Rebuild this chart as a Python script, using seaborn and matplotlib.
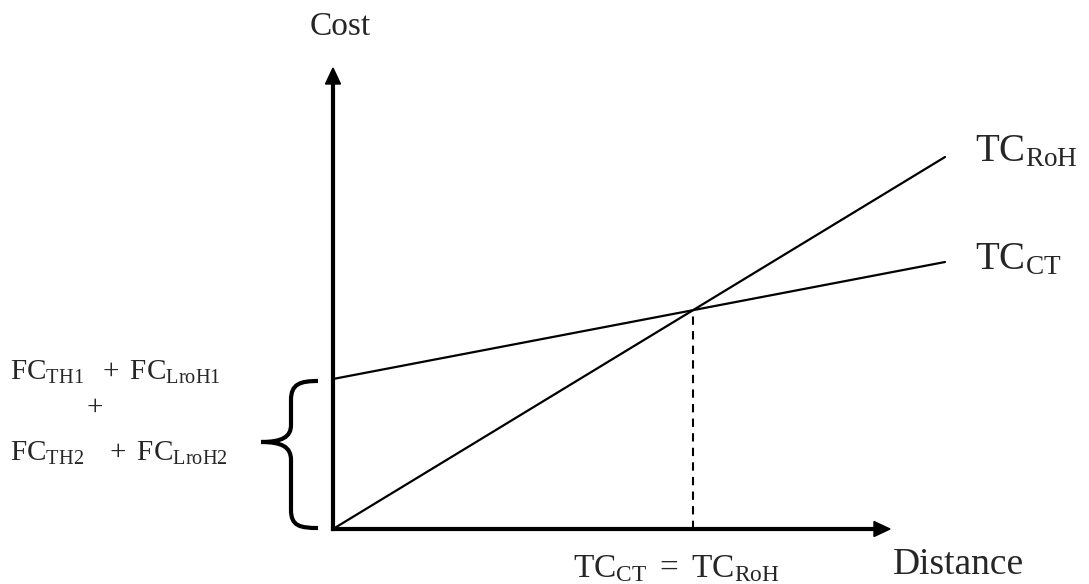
import numpy as np
import pandas as pd
import seaborn as sns
import matplotlib
matplotlib.use("Agg")
import matplotlib.pyplot as plt
from matplotlib.path import Path
from matplotlib.patches import PathPatch

# ---- data (conceptual units) ----
distance = [0, 612]
tc_ct = [150, 267]
tc_roh = [0, 372]
axis_x_end = 557
axis_y_end = 461

sns.set_theme(style="white")
plt.rcParams['font.family'] = ['Liberation Serif', 'DejaVu Serif']
plt.rcParams['mathtext.fontset'] = 'custom'
plt.rcParams['mathtext.rm'] = 'Liberation Serif'
plt.rcParams['mathtext.it'] = 'Liberation Serif:italic'

fig = plt.figure(figsize=(10.89, 5.84), dpi=100)
ax = fig.add_axes([0, 0, 1, 1])
ax.set_xlim(-333, 756)
ax.set_ylim(-55, 529)
ax.axis('off')

df = pd.DataFrame({'Distance': distance * 2,
                   'Cost': tc_ct + tc_roh,
                   'Series': ['CT'] * 2 + ['RoH'] * 2})
sns.lineplot(data=df, x='Distance', y='Cost', units='Series', estimator=None,
             color='black', lw=1.6, ax=ax, legend=False)

# intersection
slope_ct = (tc_ct[1] - tc_ct[0]) / (distance[1] - distance[0])
slope_roh = (tc_roh[1] - tc_roh[0]) / (distance[1] - distance[0])
xi = (tc_ct[0] - tc_roh[0]) / (slope_roh - slope_ct)
yi = tc_roh[0] + slope_roh * xi
ax.plot([xi, xi], [0, yi], color='black', lw=1.5, ls=(0, (4, 3)))

# axes arrows
ax.arrow(0, 0, 0, axis_y_end - 16, width=1.5, head_width=15, head_length=16,
         color='black', length_includes_head=False, overhang=0)
ax.arrow(0, 0, axis_x_end - 16, 0, width=1.5, head_width=15, head_length=16,
         color='black', length_includes_head=False, overhang=0)
ax.plot([0, 0], [0, axis_y_end - 16], color='black', lw=3, solid_capstyle='projecting')
ax.plot([0, axis_x_end - 16], [0, 0], color='black', lw=3, solid_capstyle='projecting')

def P(px, py):
    return (px - 333, 529 - py)

# brace
pts = [P(318, 381), P(300, 381), P(291, 384), P(291, 400),
       P(291, 425),
       P(291, 437), P(282, 442), P(261, 442),
       P(282, 442), P(291, 447), P(291, 460),
       P(291, 510),
       P(291, 526), P(300, 528), P(318, 528)]
codes = [Path.MOVETO, Path.CURVE4, Path.CURVE4, Path.CURVE4,
         Path.LINETO,
         Path.CURVE4, Path.CURVE4, Path.CURVE4,
         Path.CURVE4, Path.CURVE4, Path.CURVE4,
         Path.LINETO,
         Path.CURVE4, Path.CURVE4, Path.CURVE4]
ax.add_patch(PathPatch(Path(pts, codes), fill=False, lw=3, edgecolor='black',
                       capstyle='butt'))

ax.text(*P(340, 35), 'Cost', fontsize=24, ha='center', va='baseline')
ax.text(*P(893, 574), 'Distance', fontsize=27, ha='left', va='baseline')
ax.text(*P(975, 161), r'$\mathrm{TC}_{\mathrm{RoH}}$', fontsize=28, ha='left', va='baseline')
ax.text(*P(975, 269), r'$\mathrm{TC}_{\mathrm{CT}}$', fontsize=28, ha='left', va='baseline')
ax.text(*P(573, 577), r'$\mathrm{TC}_{\mathrm{CT}}\ =\ \mathrm{TC}_{\mathrm{RoH}}$', fontsize=24,
        ha='left', va='baseline')

fc = 21
ax.text(*P(10, 380), r'$\mathrm{FC}_{\mathrm{TH1}}\ \ +\ \mathrm{FC}_{\mathrm{LroH1}}$', fontsize=fc,
        ha='left', va='baseline')
ax.text(*P(95, 414), r'$+$', fontsize=fc, ha='center', va='baseline')
ax.text(*P(10, 461), r'$\mathrm{FC}_{\mathrm{TH2}}\ \ \ +\ \mathrm{FC}_{\mathrm{LroH2}}$', fontsize=fc,
        ha='left', va='baseline')

fig.savefig('out.png', dpi=100)
